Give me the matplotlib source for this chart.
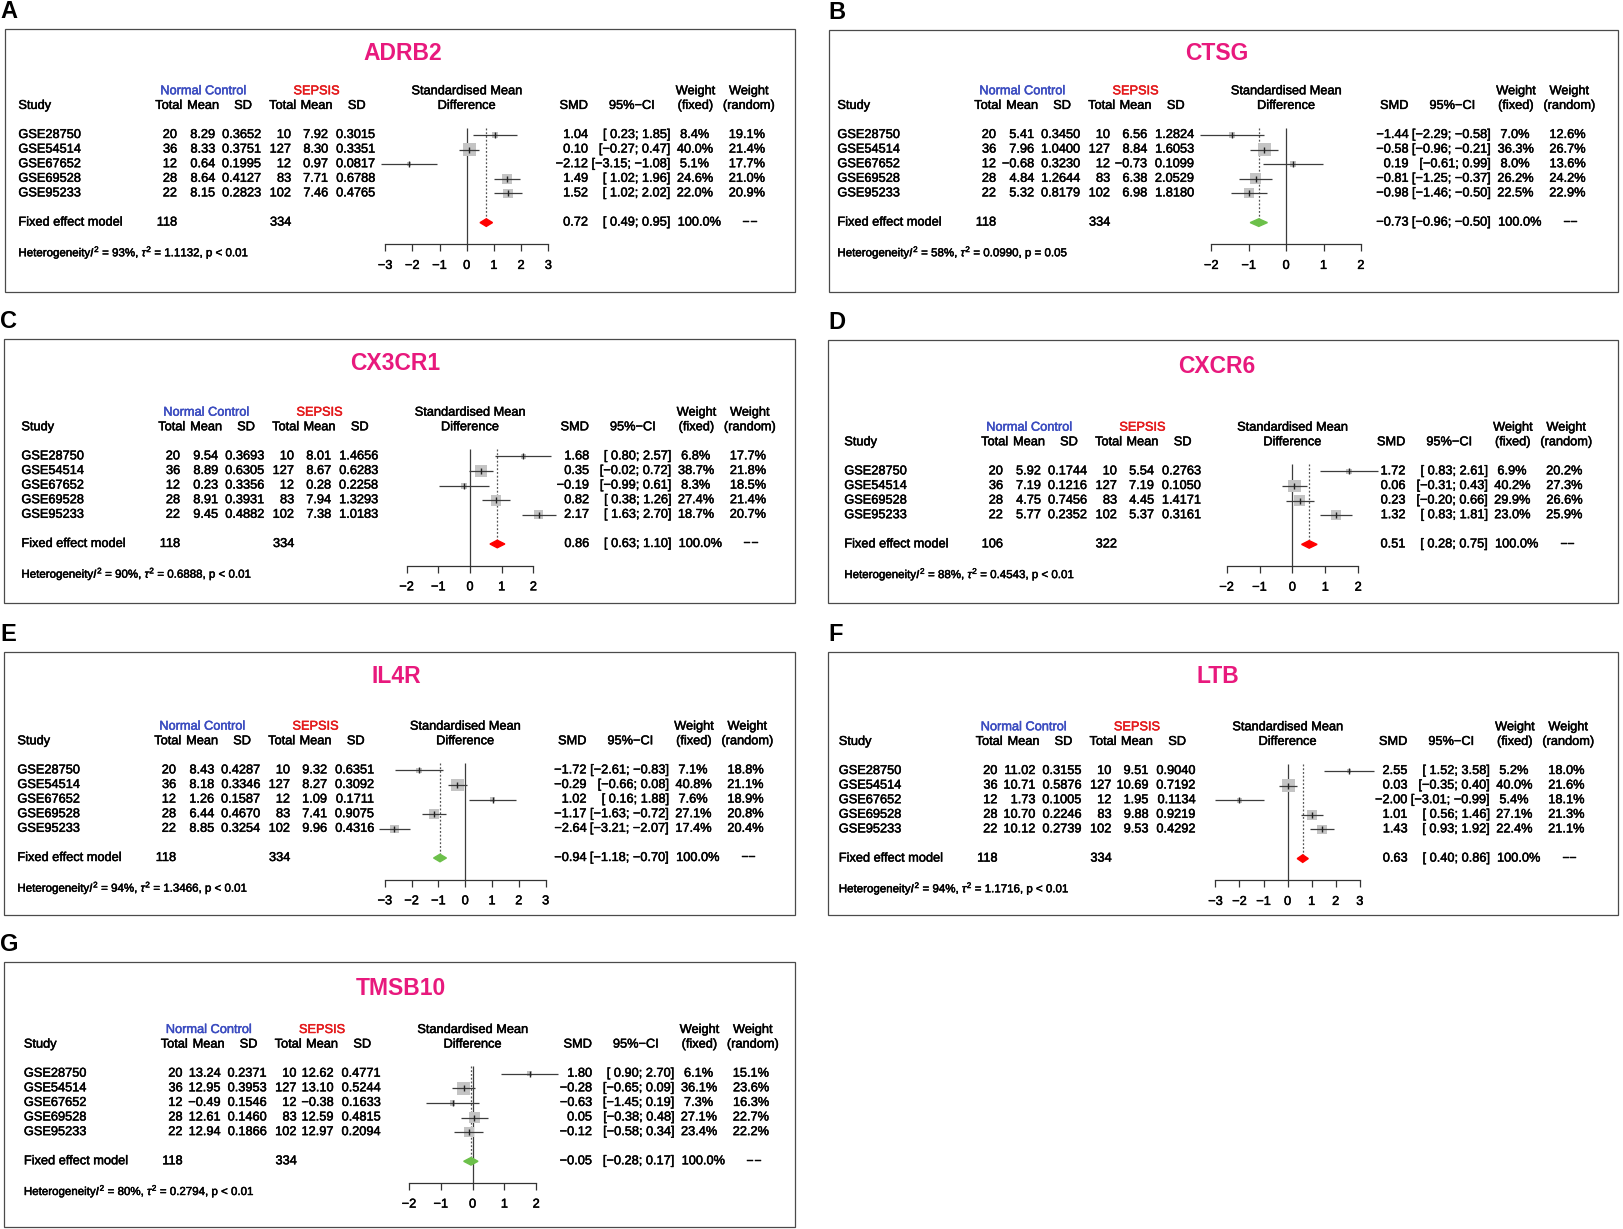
import matplotlib
matplotlib.use('Agg')
import matplotlib.pyplot as plt
import matplotlib.patheffects as pe
from matplotlib.patches import Rectangle, Polygon

plt.rcParams['font.family'] = ['Liberation Sans', 'DejaVu Sans']
plt.rcParams['mathtext.fontset'] = 'custom'
plt.rcParams['mathtext.rm'] = 'Liberation Sans'
plt.rcParams['mathtext.it'] = 'Liberation Sans:italic'

# ---------------- data ----------------
genes = ['ADRB2', 'CTSG', 'CX3CR1', 'CXCR6', 'IL4R', 'LTB', 'TMSB10']
tags = ['A', 'B', 'C', 'D', 'E', 'F', 'G']

all5 = ['GSE28750', 'GSE54514', 'GSE67652', 'GSE69528', 'GSE95233']
studies = [all5, all5, all5,
           ['GSE28750', 'GSE54514', 'GSE69528', 'GSE95233'],
           all5, all5, all5]

n_nc = [[20, 36, 12, 28, 22]] * 3 + [[20, 36, 28, 22]] + [[20, 36, 12, 28, 22]] * 3
n_sep = [[10, 127, 12, 83, 102]] * 3 + [[10, 127, 83, 102]] + [[10, 127, 12, 83, 102]] * 3

mean_nc = [[8.29, 8.33, 0.64, 8.64, 8.15],
           [5.41, 7.96, -0.68, 4.84, 5.32],
           [9.54, 8.89, 0.23, 8.91, 9.45],
           [5.92, 7.19, 4.75, 5.77],
           [8.43, 8.18, 1.26, 6.44, 8.85],
           [11.02, 10.71, 1.73, 10.70, 10.12],
           [13.24, 12.95, -0.49, 12.61, 12.94]]
sd_nc = [[0.3652, 0.3751, 0.1995, 0.4127, 0.2823],
         [0.3450, 1.0400, 0.3230, 1.2644, 0.8179],
         [0.3693, 0.6305, 0.3356, 0.3931, 0.4882],
         [0.1744, 0.1216, 0.7456, 0.2352],
         [0.4287, 0.3346, 0.1587, 0.4670, 0.3254],
         [0.3155, 0.5876, 0.1005, 0.2246, 0.2739],
         [0.2371, 0.3953, 0.1546, 0.1460, 0.1866]]
mean_sep = [[7.92, 8.30, 0.97, 7.71, 7.46],
            [6.56, 8.84, -0.73, 6.38, 6.98],
            [8.01, 8.67, 0.28, 7.94, 7.38],
            [5.54, 7.19, 4.45, 5.37],
            [9.32, 8.27, 1.09, 7.41, 9.96],
            [9.51, 10.69, 1.95, 9.88, 9.53],
            [12.62, 13.10, -0.38, 12.59, 12.97]]
sd_sep = [[0.3015, 0.3351, 0.0817, 0.6788, 0.4765],
          [1.2824, 1.6053, 0.1099, 2.0529, 1.8180],
          [1.4656, 0.6283, 0.2258, 1.3293, 1.0183],
          [0.2763, 0.1050, 1.4171, 0.3161],
          [0.6351, 0.3092, 0.1711, 0.9075, 0.4316],
          [0.9040, 0.7192, 0.1134, 0.9219, 0.4292],
          [0.4771, 0.5244, 0.1633, 0.4815, 0.2094]]

smd = [[1.04, 0.10, -2.12, 1.49, 1.52],
       [-1.44, -0.58, 0.19, -0.81, -0.98],
       [1.68, 0.35, -0.19, 0.82, 2.17],
       [1.72, 0.06, 0.23, 1.32],
       [-1.72, -0.29, 1.02, -1.17, -2.64],
       [2.55, 0.03, -2.00, 1.01, 1.43],
       [1.80, -0.28, -0.63, 0.05, -0.12]]
ci_lo = [[0.23, -0.27, -3.15, 1.02, 1.02],
         [-2.29, -0.96, -0.61, -1.25, -1.46],
         [0.80, -0.02, -0.99, 0.38, 1.63],
         [0.83, -0.31, -0.20, 0.83],
         [-2.61, -0.66, 0.16, -1.63, -3.21],
         [1.52, -0.35, -3.01, 0.56, 0.93],
         [0.90, -0.65, -1.45, -0.38, -0.58]]
ci_hi = [[1.85, 0.47, -1.08, 1.96, 2.02],
         [-0.58, -0.21, 0.99, -0.37, -0.50],
         [2.57, 0.72, 0.61, 1.26, 2.70],
         [2.61, 0.43, 0.66, 1.81],
         [-0.83, 0.08, 1.88, -0.72, -2.07],
         [3.58, 0.40, -0.99, 1.46, 1.92],
         [2.70, 0.09, 0.19, 0.48, 0.34]]
w_fixed = [[8.4, 40.0, 5.1, 24.6, 22.0],
           [7.0, 36.3, 8.0, 26.2, 22.5],
           [6.8, 38.7, 8.3, 27.4, 18.7],
           [6.9, 40.2, 29.9, 23.0],
           [7.1, 40.8, 7.6, 27.1, 17.4],
           [5.2, 40.0, 5.4, 27.1, 22.4],
           [6.1, 36.1, 7.3, 27.1, 23.4]]
w_random = [[19.1, 21.4, 17.7, 21.0, 20.9],
            [12.6, 26.7, 13.6, 24.2, 22.9],
            [17.7, 21.8, 18.5, 21.4, 20.7],
            [20.2, 27.3, 26.6, 25.9],
            [18.8, 21.1, 18.9, 20.8, 20.4],
            [18.0, 21.6, 18.1, 21.3, 21.1],
            [15.1, 23.6, 16.3, 22.7, 22.2]]

total_nc = [118, 118, 118, 106, 118, 118, 118]
total_sep = [334, 334, 334, 322, 334, 334, 334]
fixed_est = [0.72, -0.73, 0.86, 0.51, -0.94, 0.63, -0.05]
fixed_lo = [0.49, -0.96, 0.63, 0.28, -1.18, 0.40, -0.28]
fixed_hi = [0.95, -0.50, 1.10, 0.75, -0.70, 0.86, 0.17]
het_i2 = [93, 58, 90, 88, 94, 94, 80]
het_tau2 = ['1.1132', '0.0990', '0.6888', '0.4543', '1.3466', '1.1716', '0.2794']
het_p = ['p < 0.01', 'p = 0.05', 'p < 0.01', 'p < 0.01', 'p < 0.01', 'p < 0.01', 'p < 0.01']

# ---------------- layout (pixels) ----------------
W, H = 1623, 1229
boxes = [(5, 29, 795, 292), (828.5, 30, 1618, 292),
         (4, 339.3, 795, 602.7), (828.4, 340, 1618, 603),
         (3.5, 651.7, 795, 915), (828.4, 652.3, 1618, 915),
         (4, 962.3, 795, 1226.5)]
hdr1 = [62.3, 61.3, 73.4, 87.7, 75.0, 75.0, 67.7]
title_dy = [24.3, 23, 24, 26.7, 25, 24.4, 26]
title_x = [398, 388, 391.5, 388.6, 393, 389.6, 396.5]
dx = [0, -4.5, 4, 2.5, 0.5, -3, 6.5]
dxr = [0, -3, 2, -6, 0, -4, 5]
zero_x = [461.7, 457.6, 466, 464, 461.7, 459.2, 468.6]
unit_px = [27.2, 37.4, 31.7, 32.9, 26.8, 24.05, 31.8]
tick_max = [3, 2, 2, 2, 3, 3, 2]
diamond_col = ['#FF0000', '#6CC04A', '#FF0000', '#FF0000', '#6CC04A', '#FF0000', '#6CC04A']

RS = 14.6  # row step
FS = 9.2
PINK = '#E8197D'
BLUE = '#3B4CC0'
RED = '#E41A1C'
LINE = '#3C3C3C'


def num(v, d=2):
    return f'{v:.{d}f}'.replace('-', '\u2212')


def ci_txt(lo, hi):
    pad = ' ' if lo >= 0 else ''
    return f'[{pad}{num(lo)}; {num(hi)}]'


fig = plt.figure(figsize=(W / 100, H / 100), dpi=100)
bg = fig.add_axes([0, 0, 1, 1])
bg.set_xlim(0, W)
bg.set_ylim(H, 0)
bg.axis('off')


def txt(x, y, s, ha='left', size=FS, color='black', **kw):
    bg.text(x, y, s, ha=ha, va='center', fontsize=size, color=color,
            path_effects=[pe.withStroke(linewidth=0.35, foreground=color)], **kw)


for p in range(len(genes)):
    L, T, R, B = boxes[p]
    bg.add_patch(Rectangle((L, T), R - L, B - T, fill=False, ec='#4A4A4A', lw=0.9))
    lab_x = 0 if L < 100 else L
    bg.text(lab_x, T - 6, tags[p], ha='left', va='bottom', fontsize=17, fontweight='bold')
    bg.text(L + title_x[p], T + title_dy[p], genes[p], ha='center', va='center',
            fontsize=16.5, fontweight='bold', color=PINK)

    k = len(studies[p])
    d = L + dx[p]
    dr = L + dxr[p]
    zx = L + zero_x[p]
    y1 = T + hdr1[p]
    y2 = y1 + 14.6
    row0 = y1 + 43.7
    fixed_y = row0 + (k + 1) * RS
    axis_y = fixed_y + 21.6

    # headers
    txt(d + 198, y1, 'Normal Control', ha='center', color=BLUE)
    txt(d + 311.4, y1, 'SEPSIS', ha='center', color=RED)
    txt(zx, y1, 'Standardised Mean', ha='center')
    txt(dr + 690.5, y1, 'Weight', ha='center')
    txt(dr + 743.8, y1, 'Weight', ha='center')
    txt(d + 13.4, y2, 'Study')
    for hx, hs in zip([163.7, 198, 238, 277.6, 311.4, 351.7],
                      ['Total', 'Mean', 'SD', 'Total', 'Mean', 'SD']):
        txt(d + hx, y2, hs, ha='center')
    txt(zx, y2, 'Difference', ha='center')
    txt(dr + 568.6, y2, 'SMD', ha='center')
    txt(dr + 626.8, y2, '95%\u2212CI', ha='center')
    txt(dr + 690.5, y2, '(fixed)', ha='center')
    txt(dr + 743.8, y2, '(random)', ha='center')

    # study rows
    for i in range(k):
        y = row0 + i * RS
        wf = w_fixed[p][i]
        txt(d + 13.4, y, studies[p][i])
        txt(d + 172, y, str(n_nc[p][i]), ha='right')
        txt(d + 210, y, num(mean_nc[p][i]), ha='right')
        txt(d + 256, y, num(sd_nc[p][i], 4), ha='right')
        txt(d + 286, y, str(n_sep[p][i]), ha='right')
        txt(d + 323, y, num(mean_sep[p][i]), ha='right')
        txt(d + 370, y, num(sd_sep[p][i], 4), ha='right')
        txt(dr + 583, y, num(smd[p][i]), ha='right')
        txt(dr + 665, y, ci_txt(ci_lo[p][i], ci_hi[p][i]), ha='right')
        txt(dr + (708 if wf >= 10 else 704), y, f'{wf:.1f}%', ha='right')
        txt(dr + 760, y, f'{w_random[p][i]:.1f}%', ha='right')

    txt(d + 13.4, fixed_y, 'Fixed effect model')
    txt(d + 172, fixed_y, str(total_nc[p]), ha='right')
    txt(d + 286, fixed_y, str(total_sep[p]), ha='right')
    txt(dr + 583, fixed_y, num(fixed_est[p]), ha='right')
    txt(dr + 665, fixed_y, ci_txt(fixed_lo[p], fixed_hi[p]), ha='right')
    txt(dr + 716, fixed_y, '100.0%', ha='right')
    txt(dr + 745, fixed_y, '\u2212\u2212', ha='center')
    txt(d + 13.4, fixed_y + 29.6,
        r'Heterogeneity$I^2$ = ' + f'{het_i2[p]}%, ' + r'$\tau^2$ = ' + f'{het_tau2[p]}, {het_p[p]}',
        size=8.3)

    # forest axes
    tm = tick_max[p]
    u = unit_px[p]
    x0, x1 = zx - tm * u, zx + tm * u
    ytop = row0 - 0.6 * RS
    ax = fig.add_axes([x0 / W, 1 - axis_y / H, (x1 - x0) / W, (axis_y - ytop) / H])
    axis_row = (axis_y - row0) / RS
    ax.set_xlim(-tm, tm)
    ax.set_ylim(axis_row, -0.6)
    ax.patch.set_visible(False)
    for s in ['top', 'left', 'right']:
        ax.spines[s].set_visible(False)
    ax.spines['bottom'].set_bounds(-tm, tm)
    ax.spines['bottom'].set_linewidth(0.9)
    ax.spines['bottom'].set_color('#333333')
    ax.set_yticks([])
    ax.set_xticks(range(-tm, tm + 1))
    ax.tick_params(axis='x', direction='out', length=5.3, width=0.9, pad=6,
                   labelsize=FS, color='#333333')
    for t in ax.get_xticklabels():
        t.set_path_effects([pe.withStroke(linewidth=0.35, foreground='black')])

    rows = list(range(k))
    fixed_row = k + 1
    ax.vlines(0, -0.5, axis_row, color=LINE, lw=0.9, zorder=1)
    ax.vlines(fixed_est[p], -0.5, fixed_row - 0.27, color='#555555', lw=0.9,
              linestyles=(0, (1.5, 1.5)), zorder=1)
    wmax = max(w_fixed[p])
    ax.scatter(smd[p], rows, marker='s', s=[84 * w / wmax for w in w_fixed[p]],
               color='#C4C4C4', edgecolors='none', zorder=2, clip_on=False)
    ax.hlines(rows, ci_lo[p], ci_hi[p], color=LINE, lw=0.9, zorder=3, clip_on=False)
    ax.plot(smd[p], rows, ls='none', marker='|', ms=4, mew=1, color='#222222',
            zorder=4, clip_on=False)
    h = 0.26
    ax.add_patch(Polygon([(fixed_lo[p], fixed_row), (fixed_est[p], fixed_row - h),
                          (fixed_hi[p], fixed_row), (fixed_est[p], fixed_row + h)],
                         closed=True, color=diamond_col[p], zorder=4, clip_on=False))

fig.savefig('out.png', dpi=100)
